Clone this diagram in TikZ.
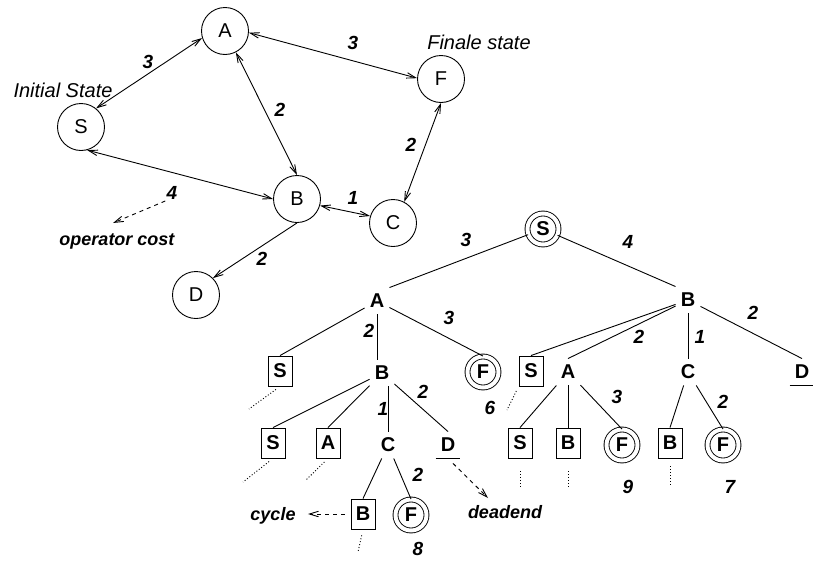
\documentclass[tikz,border=0pt]{standalone}
\usepackage{fontspec}
\setmainfont{Liberation Sans}
\usetikzlibrary{arrows.meta}
\begin{document}
\begin{tikzpicture}[x=1pt,y=-1pt,line width=0.9pt,
  >={Straight Barb[length=9pt,width=5.5pt]},
  gnode/.style={circle,draw,minimum size=47pt,inner sep=0pt,font=\fontsize{20}{22}\selectfont},
  num/.style={inner sep=1pt,font=\fontsize{19}{21}\selectfont\bfseries\itshape},
  note/.style={inner sep=2pt,font=\fontsize{18}{20}\selectfont\bfseries\itshape},
  ital/.style={inner sep=1pt,font=\fontsize{20}{22}\selectfont\itshape},
  tlet/.style={rectangle,minimum width=24pt,minimum height=26pt,inner sep=0pt,font=\fontsize{20}{22}\selectfont\bfseries},
  tbox/.style={tlet,draw,minimum height=30pt},
  tfin/.style={circle,draw,double,double distance=4pt,minimum size=31pt,inner sep=0pt,font=\fontsize{20}{22}\selectfont\bfseries},
  dasharr/.style={->,dash pattern=on 4pt off 4pt},
  dots/.style={dash pattern=on 1pt off 2pt}
]
\useasboundingbox (0,0) rectangle (813,560);

% ---------- state graph ----------
\node[gnode] (gA) at (225,31) {A};
\node[gnode] (gF) at (441,79) {F};
\node[gnode] (gS) at (81,127) {S};
\node[gnode] (gB) at (297,199) {B};
\node[gnode] (gC) at (393,223) {C};
\node[gnode] (gD) at (196,295) {D};

\node[ital] (init) at (63,90) {Initial State};
\node[ital] (fin) at (479,42) {Finale state};

\draw[<->] (gS.51) -- (gA.197);
\draw[<->] (gA.-4) -- (gF.178);
\draw[<->] (gA.-63) -- (gB.north);
\draw[<->] (gS.-75) -- (gB.west);
\draw[<->] (gB.-16) -- (gC.163);
\draw[<->] (gF.south) -- (gC.62);
\draw[->] (gB.south) -- (gD.north east);

\node[num] (nSA) at (148,62) {3};
\node[num] (nAF) at (353,43) {3};
\node[num] (nAB) at (280,110) {2};
\node[num] (nFC) at (411,145) {2};
\node[num] (nBC) at (353,198) {1};
\node[num] (n4) at (172,193) {4};
\node[num] (nBD) at (262,259) {2};
\node[note] (opc) at (117,241) {operator cost};
\coordinate (optip) at (113,223);
\draw[dasharr] (n4.south west) -- (optip);

% ---------- search tree ----------
\node[tfin] (tS) at (543,229) {S};
\node[tlet] (tA) at (377,301) {A};
\node[tlet] (tB) at (688,300) {B};

\node[tbox] (tAS) at (280,371) {S};
\node[tlet] (tAB) at (382,373) {B};
\node[tfin] (tAF) at (483,372) {F};
\node[tbox] (tBS) at (531,371) {S};
\node[tlet] (tBA) at (568,372) {A};
\node[tlet] (tBC) at (688,372) {C};
\node[tlet] (tBD) at (802,372) {D};

\node[tbox] (tABS) at (273,443) {S};
\node[tbox] (tABA) at (328,443) {A};
\node[tlet] (tABC) at (388,445) {C};
\node[tlet] (tABD) at (448,445) {D};
\node[tbox] (tBAS) at (520,443) {S};
\node[tbox] (tBAB) at (568,443) {B};
\node[tfin] (tBAF) at (622,445) {F};
\node[tbox] (tBCB) at (670,443) {B};
\node[tfin] (tBCF) at (723,445) {F};

\node[tbox] (tABCB) at (363,514) {B};
\node[tfin] (tABCF) at (411,515) {F};

% underlines of dead ends
\draw (tBD.south west) -- (tBD.south east);
\draw (tABD.south west) -- (tABD.south east);

% tree edges
\draw (tS) -- (tA.north east);
\draw (tS) -- (tB.north west);
\draw (tA) -- (tAS.north);
\draw (tA.south) -- (tA.south |- tAB.north);
\draw (tA) -- (tAF.north);
\draw (tB) -- (tBS.north);
\draw (tB) -- (tBA.north);
\draw (tB) -- (tBC.north);
\draw (tB) -- (tBD.north);
\draw (tAB) -- (tABS.north);
\draw (tAB) -- (tABA.north);
\draw (tABC.north |- tAB.south) -- (tABC.north);
\draw (tAB) -- (tABD.north);
\draw (tBA) -- (tBAS.north);
\draw (tBA) -- (tBAB.north);
\draw (tBA) -- (tBAF.north);
\draw (tBC) -- (tBCB.north);
\draw (tBC) -- (tBCF.north);
\draw (tABC) -- (tABCB.north);
\draw (tABC) -- (tABCF.north);

% costs on tree
\node[num] (c1) at (466,240) {3};
\node[num] (c2) at (628,242) {4};
\node[num] (c3) at (369,331) {2};
\node[num] (c4) at (449,318) {3};
\node[num] (c5) at (639,337) {2};
\node[num] (c6) at (700,337) {1};
\node[num] (c7) at (753,313) {2};
\node[num] (c8) at (383,409) {1};
\node[num] (c9) at (423,392) {2};
\node[num] (c10) at (617,397) {3};
\node[num] (c11) at (723,402) {2};
\node[num] (c12) at (418,475) {2};
\node[num] (t6) at (490,408) {6};
\node[num] (t8) at (418,549) {8};
\node[num] (t9) at (628,487) {9};
\node[num] (t7) at (730,487) {7};

% dotted continuations
\coordinate (dAS) at (249,409);
\coordinate (dABS) at (243,482);
\coordinate (dABA) at (306,480);
\coordinate (dABCB) at (358,552);
\coordinate (dBS) at (507,410);
\coordinate (dBAS) at (520,489);
\coordinate (dBAB) at (568,489);
\coordinate (dBCB) at (670,485);
\draw[dots,shorten <=5pt] (tAS.south) -- (dAS);
\draw[dots,shorten <=5pt] (tABS.south) -- (dABS);
\draw[dots,shorten <=5pt] (tABA.south) -- (dABA);
\draw[dots,shorten <=6pt] (tABCB.south) -- (dABCB);
\draw[dots,shorten <=5pt] (tBS.south west) -- (dBS);
\draw[dots,shorten <=13pt] (tBAS.south) -- (dBAS);
\draw[dots,shorten <=13pt] (tBAB.south) -- (dBAB);
\draw[dots,shorten <=8pt] (tBCB.south) -- (dBCB);

% cycle and deadend notes
\node[note] (cyc) at (273,516) {cycle};
\node[note] (dead) at (505,512) {deadend};
\draw[dasharr,shorten <=6pt,shorten >=10pt] (tABCB.west) -- (tABCB.west -| cyc.east);
\coordinate (deadtip) at (488,498);
\draw[dasharr,shorten <=7pt] (tABD.south) -- (deadtip);
\end{tikzpicture}
\end{document}
